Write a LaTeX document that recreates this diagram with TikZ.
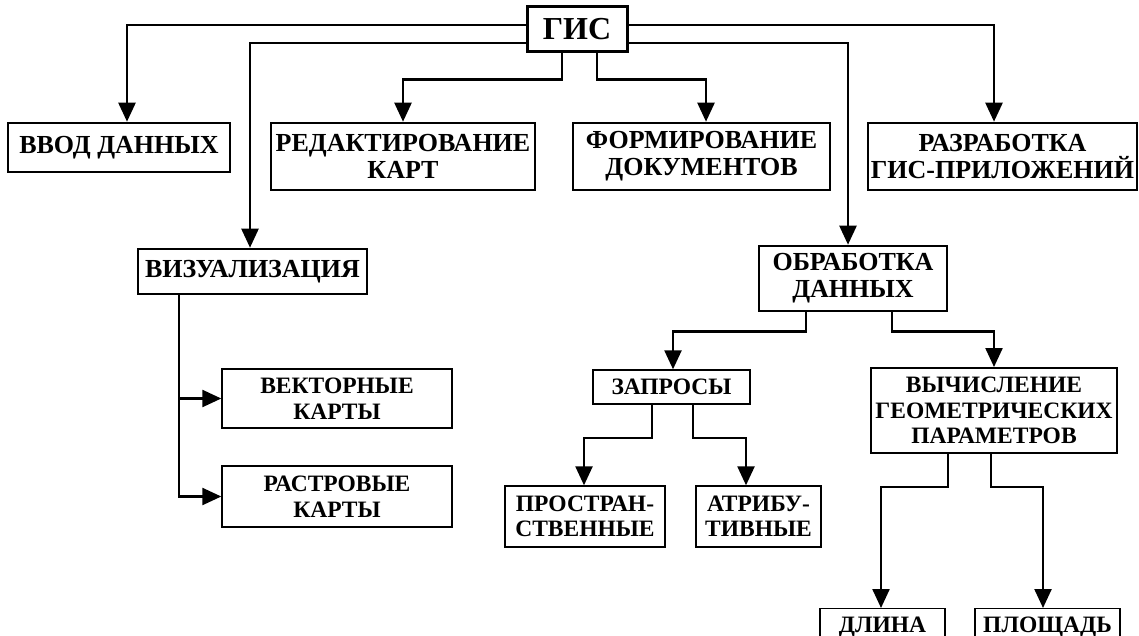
\documentclass[tikz,border=0pt]{standalone}
\usepackage{fontspec}
\setmainfont{Liberation Serif}
\usetikzlibrary{arrows.meta}
\begin{document}
\begin{tikzpicture}[x=1pt,y=-1pt,
  bx/.style={draw, line width=2.6pt, inner sep=0pt, align=center, font=\fontsize{26}{27}\selectfont\bfseries},
  sbx/.style={draw, line width=1.4pt, inner sep=0pt, align=center, font=\fontsize{23.5}{25.5}\selectfont\bfseries},
  con/.style={line width=2.4pt, -{Triangle[length=19pt,width=17pt]}}]
\useasboundingbox (0,0) rectangle (1139,636);
\node[bx, line width=3pt, minimum width=100pt, minimum height=45pt, font=\fontsize{32}{34}\selectfont\bfseries] (gis) at (577,29.5) {ГИС};
\node[bx, minimum width=222pt, minimum height=49pt] (vvod) at (119,147.5) {ВВОД ДАННЫХ};
\node[bx, minimum width=264pt, minimum height=67pt] (red) at (403,156.5) {РЕДАКТИРОВАНИЕ\\КАРТ};
\node[bx, minimum width=257pt, minimum height=67pt] (form) at (701.5,156.5) {ФОРМИРОВАНИЕ\\ДОКУМЕНТОВ};
\node[bx, minimum width=269pt, minimum height=67pt] (razr) at (1002.5,156.5) {РАЗРАБОТКА\\ГИС-ПРИЛОЖЕНИЙ};
\node[bx, minimum width=229pt, minimum height=45pt] (viz) at (252.5,271.5) {ВИЗУАЛИЗАЦИЯ};
\node[sbx, minimum width=230pt, minimum height=59pt] (vekt) at (337,398.5) {ВЕКТОРНЫЕ\\КАРТЫ};
\node[sbx, minimum width=230pt, minimum height=61pt] (rast) at (337,496.5) {РАСТРОВЫЕ\\КАРТЫ};
\node[bx, minimum width=188pt, minimum height=65pt] (obr) at (853,278.5) {ОБРАБОТКА\\ДАННЫХ};
\node[sbx, minimum width=157pt, minimum height=34pt] (zap) at (671.5,387) {ЗАПРОСЫ};
\node[sbx, minimum width=160pt, minimum height=61pt] (prost) at (585,516.5) {ПРОСТРАН-\\СТВЕННЫЕ};
\node[sbx, minimum width=125pt, minimum height=61pt] (atr) at (758.5,516.5) {АТРИБУ-\\ТИВНЫЕ};
\node[sbx, line width=2pt, minimum width=246pt, minimum height=85pt] (vych) at (994,410.5) {ВЫЧИСЛЕНИЕ\\ГЕОМЕТРИЧЕСКИХ\\ПАРАМЕТРОВ};
\node[sbx, anchor=north, minimum width=125pt, inner ysep=3pt, text height=21pt, text depth=24pt] (dlina) at (882.5,608) {ДЛИНА};
\node[sbx, anchor=north, minimum width=145pt, inner ysep=3pt, text height=21pt, text depth=24pt] (plosh) at (1047.5,608) {ПЛОЩАДЬ};
\draw[con] ([yshift=4.5]gis.west) -| ([xshift=8]vvod.north);
\draw[con] ([yshift=-13.5]gis.west) -| ([xshift=-2.5]viz.north);
\draw[con] ([yshift=4.5]gis.east) -| ([xshift=-8.5]razr.north);
\draw[con] ([yshift=-13.5]gis.east) -| ([xshift=-5]obr.north);
\draw[con] ([xshift=-15]gis.south) -- ++(0,26) -| (red.north);
\draw[con] ([xshift=20]gis.south) -- ++(0,26) -| ([xshift=4.5]form.north);
\coordinate (vizb) at ([xshift=-73.5]viz.south);
\draw[con] (vizb) |- (vekt.west);
\draw[con] (vizb) |- (rast.west);
\draw[con] ([xshift=-47]obr.south) -- ++(0,19) -| ([xshift=1.5]zap.north);
\draw[con] ([xshift=39]obr.south) -- ++(0,19) -| (vych.north);
\draw[con] ([xshift=-19.5]zap.south) -- ++(0,33) -| ([xshift=-1]prost.north);
\draw[con] ([xshift=21.5]zap.south) -- ++(0,33) -| ([xshift=-12.5]atr.north);
\draw[con] ([xshift=-46]vych.south) -- ++(0,33) -| ([xshift=-1.5]dlina.north);
\draw[con] ([xshift=-3]vych.south) -- ++(0,33) -| ([xshift=-4.5]plosh.north);
\end{tikzpicture}
\end{document}
